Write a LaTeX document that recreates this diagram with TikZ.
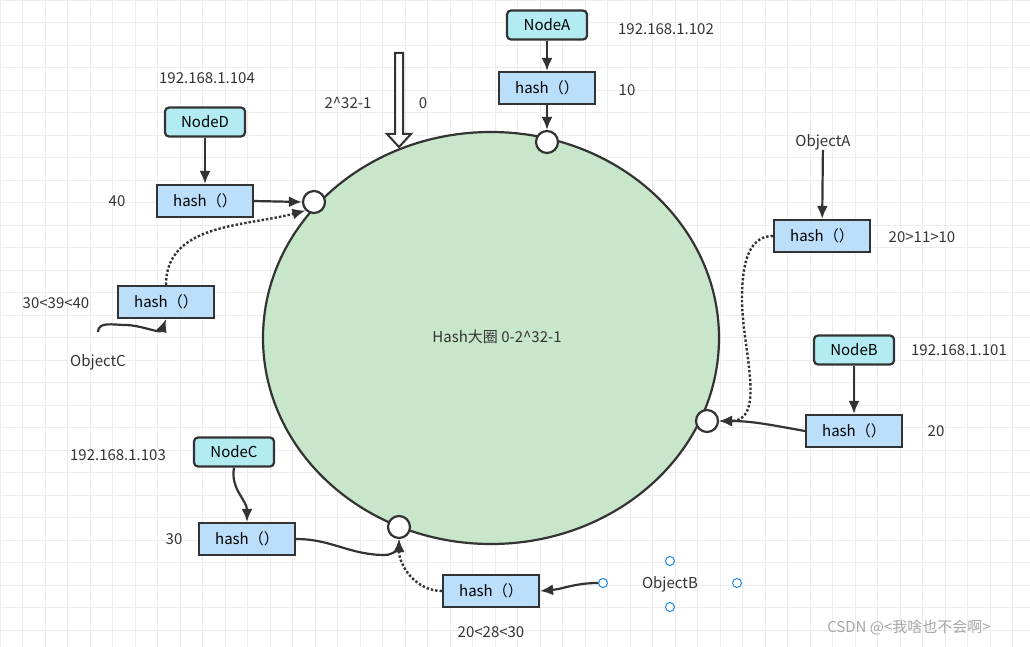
\documentclass[tikz,border=0pt]{standalone}
\usepackage{fontspec}
\setmainfont{Noto Sans CJK SC}
\usetikzlibrary{arrows.meta,shapes.geometric}
\definecolor{ringgreen}{HTML}{C8E6C9}
\definecolor{hashblue}{HTML}{BBDEFB}
\definecolor{nodecyan}{HTML}{B2EBF2}
\definecolor{inkgray}{HTML}{333333}
\definecolor{handleblue}{HTML}{1E88E5}
\tikzset{
  hashbox/.style={draw=inkgray, line width=2.2pt, fill=hashblue, minimum width=96pt, minimum height=32pt, inner sep=0pt},
  hostbox/.style={draw=inkgray, line width=2.2pt, fill=nodecyan, rounded corners=4pt, minimum width=80pt, minimum height=29pt, inner sep=0pt},
  slot/.style={circle, draw=inkgray, line width=2.2pt, fill=white, minimum size=22pt, inner sep=0pt},
  handle/.style={circle, draw=handleblue, line width=1pt, fill=white, minimum size=9pt, inner sep=0pt},
  tag/.style={text=inkgray, inner sep=0pt},
  link/.style={draw=inkgray, line width=2.2pt, -{Latex[length=13pt,width=11pt]}},
  dotlink/.style={draw=inkgray, line width=2.4pt, dotted, -{Latex[length=13pt,width=11pt]}}
}
\begin{document}
\begin{tikzpicture}[x=1pt,y=-1pt, font=\fontsize{15}{17}\selectfont]
\useasboundingbox (0,0) rectangle (1030,647);
% grid
\foreach \gx in {0,22.5,...,1030} \draw [black!7, line width=0.8pt] (\gx,0) -- (\gx,647);
\foreach \gy in {0,22.5,...,647} \draw [black!7, line width=0.8pt] (0,\gy) -- (1030,\gy);
% ring
\draw [inkgray, line width=2.2pt, fill=ringgreen] (491,338) ellipse (228 and 206);
\node [tag] (ringlabel) at (497,337) {Hash大圈 0-2\^{}32-1};
% zero mark
\draw [inkgray, line width=2pt, fill=white] (395,53) -- (403,53) -- (403,134) -- (411,134) -- (399,147) -- (387,134) -- (395,134) -- cycle;
\node [tag] (maxlabel) at (348,103) {2\^{}32-1};
\node [tag] (zerolabel) at (423,103) {0};
% slots
\node [slot] (slotA) at (547,142) {};
\node [slot] (slotD) at (314,202) {};
\node [slot] (slotB) at (707,421) {};
\node [slot] (slotC) at (399,527) {};
% servers
\node [hostbox] (nodeA) at (547,25) {NodeA};
\node [hostbox] (nodeD) at (205,122) {NodeD};
\node [hostbox] (nodeB) at (854,350) {NodeB};
\node [hostbox] (nodeC) at (234,452) {NodeC};
\node [hashbox] (hashA) at (547,88) {hash（）};
\node [hashbox] (hashD) at (205,201) {hash（）};
\node [hashbox] (hashB) at (854,431) {hash（）};
\node [hashbox] (hashC) at (247,539) {hash（）};
\node [hashbox] (hashObjA) at (822,236) {hash（）};
\node [hashbox] (hashObjC) at (166,302) {hash（）};
\node [hashbox] (hashObjB) at (491,591) {hash（）};
% texts
\node [tag] (ipA) at (666,29) {192.168.1.102};
\node [tag] (valA) at (627,90) {10};
\node [tag] (ipD) at (207,78) {192.168.1.104};
\node [tag] (valD) at (117,201) {40};
\node [tag] (ipB) at (959,350) {192.168.1.101};
\node [tag] (valB) at (936,431) {20};
\node [tag] (ipC) at (118,455) {192.168.1.103};
\node [tag] (valC) at (174,539) {30};
\node [tag] (objA) at (823,142) {ObjectA};
\node [tag] (cmpA) at (922,237) {20>11>10};
\node [tag] (objC) at (98,362) {ObjectC};
\node [tag] (cmpC) at (56,303) {30<39<40};
\node [tag] (objB) at (670,584) {ObjectB};
\node [tag] (cmpB) at (491,632) {20<28<30};
\node [text=black!35, inner sep=0pt] (mark) at (909,627) {CSDN @<我啥也不会啊>};
% handles
\node [handle] (hN) at (670,561) {};
\node [handle] (hW) at (603,583) {};
\node [handle] (hE) at (737,583) {};
\node [handle] (hS) at (670,607) {};
% connectors
\draw [link] (nodeA) -- (hashA);
\draw [link] (hashA) -- (slotA);
\draw [link] (nodeD) -- (hashD);
\draw [link] (hashD.east) -- (slotD.west);
\draw [link] (nodeB) -- (hashB);
\draw [link] (hashB.west) to[out=170,in=0] (slotB.east);
\draw [link] (nodeC.south) to[out=-100,in=90] (hashC.north);
\draw [link] (hashC.east) to[out=0,in=180] (385,555) to[out=0,in=-90] (slotC.south);
\draw [link] (objA) -- (hashObjA);
\draw [dotlink] (hashObjC.north) to[out=90,in=195] (slotD.south west);
\draw [dotlink] (hashObjA.west) to[out=180,in=90] (742,300) to[out=-90,in=0] (slotB.east);
\draw [dotlink] (hashObjB.west) to[out=180,in=-90] (slotC.south);
\draw [link] (hW) to[out=180,in=5] (hashObjB.east);
\draw [link] (98,332) to[out=90,in=180] (125,325) to[out=0,in=-110] (hashObjC.south);
\end{tikzpicture}
\end{document}
